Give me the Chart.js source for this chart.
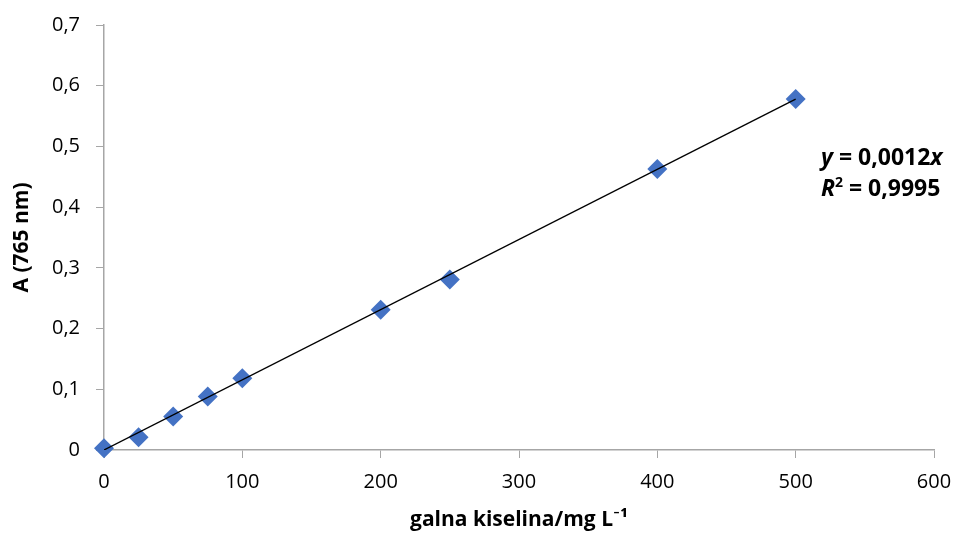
<!DOCTYPE html>
<html>
<head>
<meta charset="utf-8">
<script src="https://cdn.jsdelivr.net/npm/chart.js@4/dist/chart.umd.min.js"></script>
<style>
  body { margin: 0; background: #fff; }
  #wrap { width: 956px; height: 537px; }
</style>
</head>
<body>
<div id="wrap"><canvas id="my-chart" width="956" height="537"></canvas></div>
<script>
'use strict';

// ******** DATA *******
let concentrations = [0, 25, 50, 75, 100, 200, 250, 400, 500];
let absorbances = [0.003, 0.021, 0.055, 0.088, 0.118, 0.231, 0.281, 0.463, 0.578];

// trendline endpoints
let trendX = [0, 500];
let trendY = [0, 0.578];

let xTicks = [0, 100, 200, 300, 400, 500, 600];
let yTicks = [0, 0.1, 0.2, 0.3, 0.4, 0.5, 0.6, 0.7];

let fontFamily = '"Open Sans", Lato, sans-serif';
let axisGray = '#a6a6a6';

let ctx = document.getElementById('my-chart');

// points for the scatter and the trend line
let points = [];
for (let i = 0; i < concentrations.length; i++) {
  points.push({ x: concentrations[i], y: absorbances[i] });
}
let trendPoints = [];
for (let i = 0; i < trendX.length; i++) {
  trendPoints.push({ x: trendX[i], y: trendY[i] });
}

// draws the equation label next to the line (mixed italic/bold parts)
let equationPlugin = {
  id: 'equation',
  afterDraw(chart) {
    let c = chart.ctx;
    c.save();
    c.fillStyle = '#000';
    c.textBaseline = 'alphabetic';
    let size = 23;
    let drawParts = function (parts, x, y) {
      for (let p of parts) {
        c.font = (p.italic ? 'italic ' : '') + 'bold ' + (p.sup ? 14 : size) + 'px ' + fontFamily;
        c.fillText(p.text, x, p.sup ? y - 9 : y);
        x += c.measureText(p.text).width;
      }
    };
    drawParts([
      { text: 'y', italic: true },
      { text: ' = 0,0012' },
      { text: 'x', italic: true }
    ], 821, 165);
    drawParts([
      { text: 'R', italic: true },
      { text: '2', sup: true },
      { text: ' = 0,9995' }
    ], 821, 196);
    c.restore();
  }
};

let chartObject = {
  type: 'scatter',
  data: {
    datasets: [
      {
        label: 'A',
        data: points,
        pointStyle: 'rectRot',
        pointRadius: 10,
        pointHoverRadius: 10,
        backgroundColor: '#4472C4',
        borderColor: '#4472C4',
        borderWidth: 0,
        clip: false,
        order: 2
      },
      {
        label: 'trend',
        type: 'line',
        data: trendPoints,
        borderColor: '#000',
        borderWidth: 1.3,
        pointRadius: 0,
        fill: false,
        order: 1
      }
    ]
  },
  plugins: [equationPlugin],
  options: {
    responsive: false,
    animation: false,
    layout: { padding: { left: 0, right: 22, top: 25, bottom: 0 } },
    plugins: {
      legend: { display: false },
      tooltip: { enabled: false }
    },
    scales: {
      x: {
        type: 'linear',
        min: 0,
        max: 600,
        afterBuildTicks(scale) {
          scale.ticks = xTicks.map(v => ({ value: v }));
        },
        afterFit(scale) {
          scale.height = 87;
          scale.paddingLeft = 0;
          scale.paddingRight = 0;
        },
        grid: {
          drawOnChartArea: false,
          drawTicks: true,
          tickLength: 8,
          color: axisGray
        },
        border: { color: axisGray, width: 1.5 },
        ticks: {
          color: '#000',
          font: { family: fontFamily, size: 20 },
          padding: 12
        },
        title: {
          display: true,
          text: 'galna kiselina/mg L⁻¹',
          color: '#000',
          font: { family: fontFamily, size: 21, weight: 'bold' },
          padding: { top: 4 }
        }
      },
      y: {
        type: 'linear',
        min: 0,
        max: 0.7,
        afterBuildTicks(scale) {
          scale.ticks = yTicks.map(v => ({ value: v }));
        },
        afterFit(scale) {
          scale.width = 104;
          scale.paddingTop = 0;
          scale.paddingBottom = 0;
        },
        grid: {
          drawOnChartArea: false,
          drawTicks: true,
          tickLength: 8,
          color: axisGray
        },
        border: { color: axisGray, width: 1.5 },
        ticks: {
          color: '#000',
          font: { family: fontFamily, size: 20 },
          padding: 16,
          callback: v => String(Math.round(v * 10) / 10).replace('.', ',')
        },
        title: {
          display: true,
          text: 'A (765 nm)',
          color: '#000',
          font: { family: fontFamily, size: 21, weight: 'bold' },
          padding: { top: 9, bottom: 0 }
        }
      }
    }
  }
};

const myChart = new Chart(ctx, chartObject);
</script>
</body>
</html>
